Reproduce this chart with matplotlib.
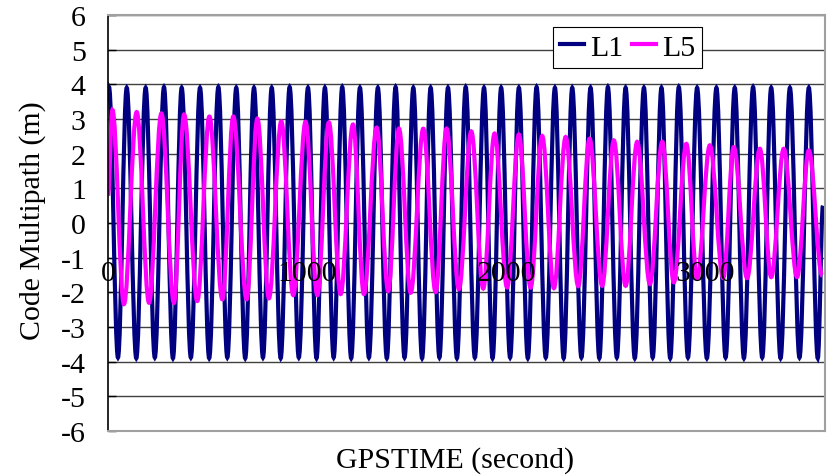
import matplotlib
matplotlib.use('Agg')
import matplotlib.pyplot as plt
from matplotlib.path import Path
from matplotlib.patches import PathPatch
from matplotlib.lines import Line2D

plt.rcParams['font.family'] = ['Liberation Serif', 'DejaVu Serif']

# L1 multipath: turning points (time s, value m)
l1_peak_t = [5, 94, 189, 281, 370, 462, 554, 644, 733, 822, 912, 1004, 1089, 1176,
             1265, 1355, 1444, 1533, 1620, 1707, 1796, 1888, 1974, 2063, 2152, 2244,
             2331, 2423, 2510, 2599, 2691, 2779, 2866, 2958, 3055, 3147, 3239, 3330,
             3424, 3519]
l1_peak_v = [3.92, 3.9, 3.9, 3.92, 3.9, 3.9, 3.92, 3.9, 3.9, 3.9, 3.92, 3.9, 3.9, 3.92,
             3.9, 3.9, 3.92, 3.9, 3.9, 3.9, 3.92, 3.9, 3.9, 3.9, 3.92, 3.9, 3.9, 3.9,
             3.92, 3.9, 3.9, 3.9, 3.92, 3.9, 3.9, 3.9, 3.92, 3.9, 3.9, 3.9]
l1_trough_t = [50, 142, 235, 326, 416, 508, 599, 689, 778, 867, 958, 1047, 1133, 1221,
               1310, 1400, 1489, 1577, 1664, 1752, 1842, 1931, 2019, 2108, 2198, 2288,
               2377, 2467, 2555, 2645, 2735, 2823, 2912, 3007, 3101, 3193, 3285, 3377,
               3472, 3564]
l1_trough_v = [-3.88, -3.9, -3.88, -3.9, -3.88, -3.9, -3.88, -3.9, -3.88, -3.9, -3.88,
               -3.9, -3.88, -3.9, -3.88, -3.9, -3.88, -3.9, -3.88, -3.9, -3.88, -3.9,
               -3.88, -3.9, -3.88, -3.9, -3.88, -3.9, -3.88, -3.9, -3.88, -3.9, -3.88,
               -3.9, -3.88, -3.9, -3.88, -3.9, -3.88, -3.9]
l1_ends_t = [0, 3590]
l1_ends_v = [3.5, 0.5]

# L5 multipath
l5_peak_t = [22, 144, 268, 382, 509, 629, 750, 870, 992, 1109, 1230, 1349, 1461, 1583,
             1700, 1824, 1941, 2063, 2180, 2298, 2418, 2540, 2657, 2783, 2904, 3022,
             3142, 3273, 3393, 3519]
l5_peak_v = [3.26, 3.2, 3.16, 3.13, 3.07, 3.07, 3.01, 2.93, 2.92, 2.9, 2.84, 2.75, 2.72,
             2.72, 2.72, 2.64, 2.58, 2.55, 2.51, 2.48, 2.43, 2.38, 2.34, 2.34, 2.28,
             2.24, 2.19, 2.14, 2.14, 2.09]
l5_trough_t = [80, 206, 331, 448, 574, 696, 808, 930, 1051, 1168, 1285, 1407, 1520, 1645,
               1762, 1884, 2004, 2122, 2239, 2361, 2481, 2599, 2721, 2841, 2958, 3089,
               3209, 3330, 3460, 3586]
l5_trough_v = [-2.34, -2.3, -2.3, -2.25, -2.2, -2.2, -2.17, -2.08, -2.08, -2.05, -2.05,
               -1.96, -2.01, -1.99, -1.91, -1.89, -1.86, -1.86, -1.88, -1.82, -1.81,
               -1.81, -1.76, -1.71, -1.61, -1.59, -1.59, -1.56, -1.56, -1.52]
l5_ends_t = [0]
l5_ends_v = [0.8]

x_ticks = [0, 1000, 2000, 3000]
x_labels = ['0', '1000', '2000', '3000']
y_ticks = [-6, -5, -4, -3, -2, -1, 0, 1, 2, 3, 4, 5, 6]
y_labels = ['-6', '-5', '-4', '-3', '-2', '-1', '0', '1', '2', '3', '4', '5', '6']


def series(*parts):
    pts = []
    for t, v in parts:
        pts += list(zip(t, v))
    pts.sort()
    return [p[0] for p in pts], [p[1] for p in pts]


def smooth_path(xs, ys, k=0.364):
    # smoothed line: cubic segments with flat tangents at the turning points
    verts = [(xs[0], ys[0])]
    codes = [Path.MOVETO]
    for i in range(1, len(xs)):
        dx = xs[i] - xs[i - 1]
        verts += [(xs[i - 1] + k * dx, ys[i - 1]), (xs[i] - k * dx, ys[i]), (xs[i], ys[i])]
        codes += [Path.CURVE4] * 3
    return Path(verts, codes)


l1_x, l1_y = series((l1_peak_t, l1_peak_v), (l1_trough_t, l1_trough_v), (l1_ends_t, l1_ends_v))
l5_x, l5_y = series((l5_peak_t, l5_peak_v), (l5_trough_t, l5_trough_v), (l5_ends_t, l5_ends_v))

fs = 21.5
lw = 3.0
c1 = '#000080'
c5 = '#ff00ff'

fig = plt.figure(figsize=(8.36, 4.77), dpi=100)
ax = fig.add_subplot(111)
fig.subplots_adjust(left=0.1292, right=0.9868, top=0.9665, bottom=0.0943)

ax.add_patch(PathPatch(smooth_path(l1_x, l1_y), fill=False, edgecolor=c1, lw=lw, zorder=2))
ax.add_patch(PathPatch(smooth_path(l5_x, l5_y), fill=False, edgecolor=c5, lw=lw, zorder=2.1))

ax.set_xlim(0, 3600)
ax.set_ylim(-6, 6)
ax.set_yticks(y_ticks)
ax.set_yticklabels(y_labels)
ax.grid(axis='y', color='#404040', lw=1.0)
ax.set_axisbelow(True)
ax.tick_params(axis='x', bottom=False, labelbottom=False)
ax.tick_params(axis='y', direction='in', length=6, width=1, color='black', pad=16, labelsize=fs)

for s in ['top', 'right', 'bottom']:
    ax.spines[s].set_color('#a0a0a0')
    ax.spines[s].set_linewidth(1.5)
ax.spines['left'].set_color('black')
ax.spines['left'].set_linewidth(1.2)

# x labels sit just under the zero line, drawn over the curves
sec = ax.secondary_xaxis(0.5)
sec.xaxis.tick_bottom()
sec.set_xticks(x_ticks)
sec.set_xticklabels(x_labels)
sec.tick_params(axis='x', length=0, pad=27, labelsize=fs, labelbottom=True, labeltop=False)
for s in sec.spines.values():
    s.set_visible(False)
sec.set_zorder(5)

ax.set_xlabel('GPSTIME (second)', fontsize=fs)
ax.xaxis.set_label_coords(0.484, -0.035)
ax.set_ylabel('Code Multipath (m)', fontsize=fs)
ax.yaxis.set_label_coords(-0.087, 0.507)

handles = [Line2D([], [], color=c1, lw=lw), Line2D([], [], color=c5, lw=lw)]
leg = ax.legend(handles, ['L1', 'L5'], loc='center', bbox_to_anchor=(0.7245, 0.922),
                ncol=2, frameon=True, fancybox=False, edgecolor='black', framealpha=1,
                handlelength=0.8, handletextpad=0.2, columnspacing=0.3, borderpad=0.25,
                fontsize=fs, borderaxespad=0)
leg.get_frame().set_linewidth(0.8)
leg.set_zorder(6)

fig.savefig('out.png', dpi=100)
